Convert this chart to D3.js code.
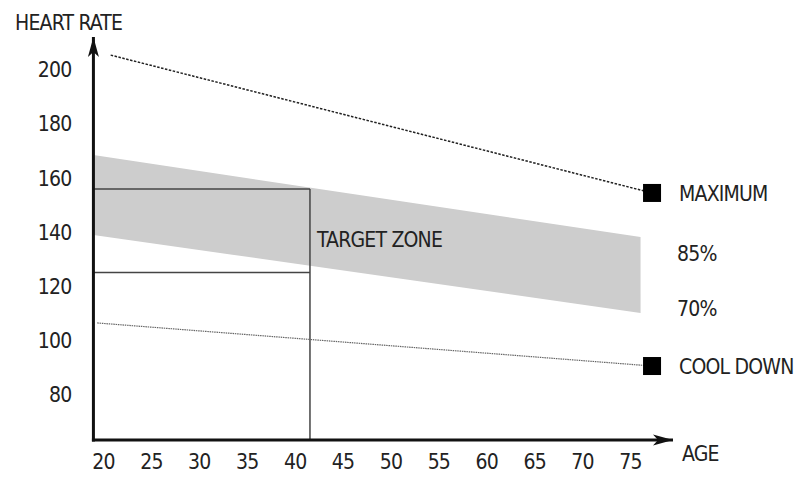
<!DOCTYPE html>
<html>
<head>
<meta charset="utf-8">
<script src="https://cdn.jsdelivr.net/npm/d3@7"></script>
<style>
  body { margin: 0; background: #fff; }
  text { font-family: "Liberation Sans Narrow", "Arial Narrow", "DejaVu Sans Condensed", "Liberation Sans", sans-serif; font-size: 21px; letter-spacing: -0.8px; fill: #222; }
</style>
</head>
<body>
<script>
// tick labels
const ageTicks = [20, 25, 30, 35, 40, 45, 50, 55, 60, 65, 70, 75];
const rateTicks = [80, 100, 120, 140, 160, 180, 200];

// maximum heart rate line (age, rate)
const maxAges = [20.8, 77.3];
const maxRates = [205.5, 154.6];

// target zone band
const zoneAges = [19, 76.1];
const zoneUpper = [168.6, 138.3];
const zoneLower = [139.1, 110.3];

// cool down line
const coolAges = [19.4, 77.3];
const coolRates = [106.6, 90.7];

// example reading for one age
const exampleAge = 41.6;
const exampleUpper = 156.1;
const exampleLower = 125.2;

// end labels
const markerAge = 77.3;
const markerNames = ['MAXIMUM', 'COOL DOWN'];
const markerRates = [154.6, 90.7];
const pctNames = ['85%', '70%'];
const pctRates = [132.3, 112.0];

const width = 801, height = 480;

const svg = d3.select('body').append('svg')
    .attr('width', width)
    .attr('height', height);

// scales
const x = d3.scaleLinear().domain([20, 75]).range([103, 630]);
const y = d3.scaleLinear().domain([80, 200]).range([395, 70]);

const originX = x(19);
const originY = 440;

// arrow heads
const defs = svg.append('defs');
defs.append('marker')
    .attr('id', 'arrow')
    .attr('viewBox', '0 0 20 12')
    .attr('refX', 20)
    .attr('refY', 6)
    .attr('markerWidth', 20)
    .attr('markerHeight', 12)
    .attr('markerUnits', 'userSpaceOnUse')
    .attr('orient', 'auto')
    .append('path')
    .attr('d', 'M0,0.5 L20,6 L0,11.5 L5,6 Z')
    .attr('fill', '#111');

// target zone band
const band = zoneAges.map((a, i) => ({ age: a, hi: zoneUpper[i], lo: zoneLower[i] }));
svg.append('path')
    .datum(band)
    .attr('fill', '#cdcdcd')
    .attr('d', d3.area()
        .x(d => x(d.age))
        .y0(d => y(d.lo))
        .y1(d => y(d.hi)));

// example box
const box = svg.append('g')
    .attr('stroke', '#444')
    .attr('stroke-width', 1.5)
    .attr('fill', 'none');
box.append('line')
    .attr('x1', originX).attr('x2', x(exampleAge))
    .attr('y1', y(exampleUpper)).attr('y2', y(exampleUpper));
box.append('line')
    .attr('x1', originX).attr('x2', x(exampleAge))
    .attr('y1', y(exampleLower)).attr('y2', y(exampleLower));
box.append('line')
    .attr('x1', x(exampleAge)).attr('x2', x(exampleAge))
    .attr('y1', y(exampleUpper)).attr('y2', originY);

svg.append('text')
    .attr('x', x(exampleAge) + 7)
    .attr('y', 247)
    .text('TARGET ZONE');

// maximum line
const line = d3.line().x(d => x(d[0])).y(d => y(d[1]));
svg.append('path')
    .datum(d3.zip(maxAges, maxRates))
    .attr('fill', 'none')
    .attr('stroke', '#222')
    .attr('stroke-width', 1.5)
    .attr('stroke-dasharray', '2.5,1.5')
    .attr('d', line);

// cool down line
svg.append('path')
    .datum(d3.zip(coolAges, coolRates))
    .attr('fill', 'none')
    .attr('stroke', '#666')
    .attr('stroke-width', 1.2)
    .attr('stroke-dasharray', '1.5,0.8')
    .attr('d', line);

// square markers and labels
svg.selectAll('rect.marker')
    .data(markerRates)
    .enter().append('rect')
    .attr('class', 'marker')
    .attr('x', x(markerAge) - 9)
    .attr('y', d => y(d) - 9)
    .attr('width', 18)
    .attr('height', 18)
    .attr('fill', '#000');

svg.selectAll('text.mlabel')
    .data(markerNames)
    .enter().append('text')
    .attr('class', 'mlabel')
    .attr('x', x(markerAge) + 27)
    .attr('y', (d, i) => y(markerRates[i]))
    .attr('dy', '0.36em')
    .text(d => d);

svg.selectAll('text.plabel')
    .data(pctNames)
    .enter().append('text')
    .attr('class', 'plabel')
    .attr('x', x(markerAge) + 25)
    .attr('y', (d, i) => y(pctRates[i]))
    .attr('dy', '0.36em')
    .text(d => d);

// axes
const xAxis = svg.append('g')
    .attr('transform', `translate(0,${originY})`)
    .call(d3.axisBottom(x).tickValues(ageTicks).tickSize(0).tickPadding(14));
const yAxis = svg.append('g')
    .attr('transform', `translate(${originX},0)`)
    .call(d3.axisLeft(y).tickValues(rateTicks).tickSize(0).tickPadding(22));
[xAxis, yAxis].forEach(g => {
    g.select('.domain').remove();
    g.selectAll('text').attr('font-family', null).attr('font-size', null).attr('fill', '#222');
});

svg.append('line')
    .attr('x1', originX - 1.5).attr('x2', 673)
    .attr('y1', originY).attr('y2', originY)
    .attr('stroke', '#111')
    .attr('stroke-width', 3)
    .attr('marker-end', 'url(#arrow)');
svg.append('line')
    .attr('x1', originX).attr('x2', originX)
    .attr('y1', originY + 1.5).attr('y2', 37)
    .attr('stroke', '#111')
    .attr('stroke-width', 3)
    .attr('marker-end', 'url(#arrow)');

// axis titles
svg.append('text').attr('x', 15).attr('y', 30).text('HEART RATE');
svg.append('text').attr('x', 682).attr('y', 461).text('AGE');
</script>
</body>
</html>
